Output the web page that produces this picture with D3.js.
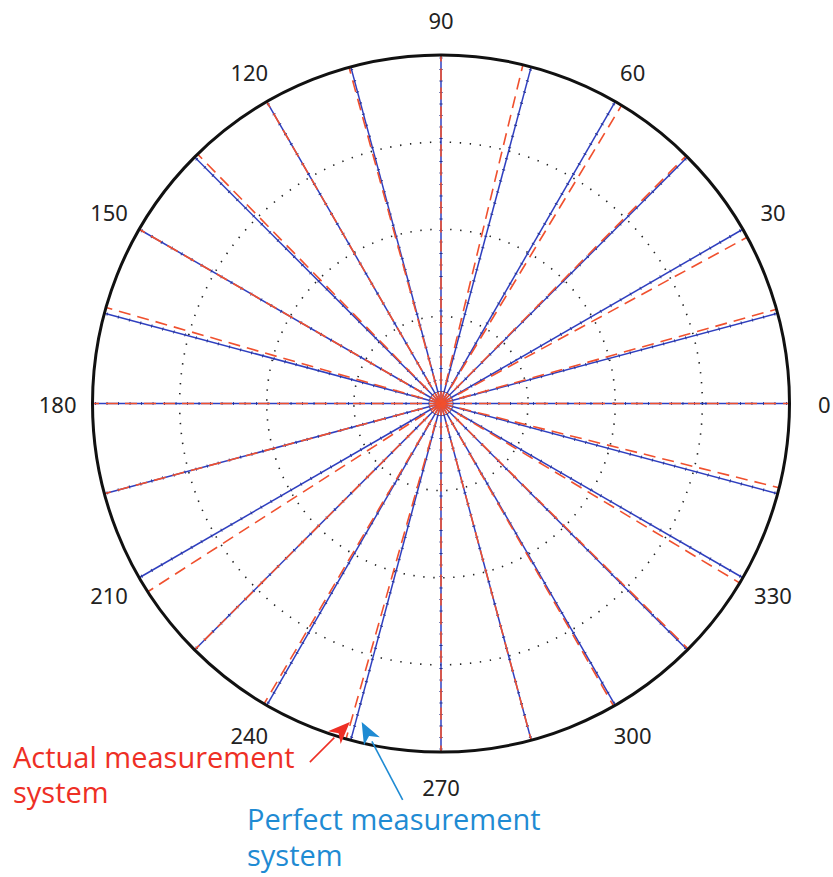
<!DOCTYPE html>
<html>
<head>
<meta charset="utf-8">
<script src="https://cdn.jsdelivr.net/npm/d3@7"></script>
<style>
  html, body { margin: 0; padding: 0; background: #fff; }
  svg { display: block; }
</style>
</head>
<body>
<svg id="chart" width="833" height="877"></svg>
<script>
// Nominal spoke directions (degrees) of the perfect system
const trueAngles = [0, 15, 30, 45, 60, 75, 90, 105, 120, 135, 150, 165,
                    180, 195, 210, 225, 240, 255, 270, 285, 300, 315, 330, 345];
// Directions reported by the actual measurement system for each spoke
const measuredAngles = [0, 15.7, 28.5, 45.3, 58.8, 76.4, 90, 105.3, 120, 134.3, 150, 164,
                        180, 195, 212.7, 225, 239.5, 254.2, 270, 285, 299.7, 315.2, 329, 346];
// Angular tick labels
const angleTicks = [0, 30, 60, 90, 120, 150, 180, 210, 240, 270, 300, 330];
// Dotted range rings (fraction of full radius)
const ringValues = [0.25, 0.5, 0.75];
const rMax = 1;

const svg = d3.select("#chart");
const cx = 441, cy = 403.5, R = 348.5;

const rScale = d3.scaleLinear().domain([0, rMax]).range([0, R]);
// math angle (deg, ccw from east) -> d3 radial angle (rad, cw from north)
const aScale = d3.scaleLinear().domain([0, 360]).range([Math.PI / 2, Math.PI / 2 - 2 * Math.PI]);

const g = svg.append("g").attr("transform", `translate(${cx},${cy})`);

const ray = d3.lineRadial()
  .angle(d => aScale(d.a))
  .radius(d => rScale(d.r));
const spoke = a => ray([{ a: a, r: 0 }, { a: a, r: rMax }]);

// dotted range rings
g.selectAll("circle.ring").data(ringValues).join("circle")
  .attr("class", "ring")
  .attr("r", d => rScale(d))
  .attr("fill", "none")
  .attr("stroke", "#222")
  .attr("stroke-width", 1.6)
  .attr("stroke-dasharray", "1.4 8.6");

// perfect system: solid blue spokes with sample markers
g.selectAll("path.perfect").data(trueAngles).join("path")
  .attr("class", "perfect")
  .attr("d", spoke)
  .attr("fill", "none")
  .attr("stroke", "#2f3fbf")
  .attr("stroke-width", 1.5);
g.selectAll("path.samples").data(trueAngles).join("path")
  .attr("class", "samples")
  .attr("d", spoke)
  .attr("fill", "none")
  .attr("stroke", "#27338f")
  .attr("stroke-width", 3.2)
  .attr("stroke-dasharray", "0.9 10.6");

// actual system: dashed red spokes
g.selectAll("path.actual").data(measuredAngles).join("path")
  .attr("class", "actual")
  .attr("d", spoke)
  .attr("fill", "none")
  .attr("stroke", "#f0502e")
  .attr("stroke-width", 1.6)
  .attr("stroke-dasharray", "12 7");

// outer boundary
g.append("circle")
  .attr("r", rScale(rMax))
  .attr("fill", "none")
  .attr("stroke", "#111")
  .attr("stroke-width", 3);

// angle labels, centred on a ring just outside the boundary
const labelR = rScale(rMax * 1.1);
g.selectAll("text.tick").data(angleTicks).join("text")
  .attr("class", "tick")
  .attr("x", d => Math.cos(d * Math.PI / 180) * labelR)
  .attr("y", d => -Math.sin(d * Math.PI / 180) * labelR)
  .attr("text-anchor", "middle")
  .attr("dominant-baseline", "central")
  .attr("font-family", "'Noto Sans', 'Open Sans', sans-serif")
  .attr("font-size", 22)
  .attr("fill", "#222")
  .text(d => d);

// callouts
const redC = "#ee2f25", blueC = "#1f8bd3";
function arrow(tip, dx, dy, color) {
  const tail = [tip[0] + dx, tip[1] + dy];
  const len = Math.hypot(dx, dy), ux = -dx / len, uy = -dy / len;
  const hl = 22, hw = 9;
  const base = [tip[0] - ux * hl, tip[1] - uy * hl];
  svg.append("line")
    .attr("x1", tail[0]).attr("y1", tail[1])
    .attr("x2", base[0]).attr("y2", base[1])
    .attr("stroke", color).attr("stroke-width", 1.6);
  svg.append("path")
    .attr("d", d3.line()([
      tip,
      [base[0] - uy * hw, base[1] + ux * hw],
      [tip[0] - ux * hl * 0.72, tip[1] - uy * hl * 0.72],
      [base[0] + uy * hw, base[1] - ux * hw]
    ]) + "Z")
    .attr("fill", color);
}
const redLine = measuredAngles[17], blueLine = trueAngles[17];
const pRed = d3.pointRadial(aScale(redLine), rScale(0.95));
const pBlue = d3.pointRadial(aScale(blueLine), rScale(0.946));
arrow([cx + pRed[0] - 1, cy + pRed[1]], -40, 40, redC);
arrow([cx + pBlue[0] + 6, cy + pBlue[1]], 41, 78, blueC);

const noteFont = "'Open Sans', 'Noto Sans', sans-serif";
svg.append("text").attr("x", 13).attr("y", 768)
  .attr("font-family", noteFont).attr("font-size", 29).attr("fill", redC)
  .text("Actual measurement");
svg.append("text").attr("x", 13).attr("y", 803)
  .attr("font-family", noteFont).attr("font-size", 29).attr("fill", redC)
  .text("system");
svg.append("text").attr("x", 247).attr("y", 830)
  .attr("font-family", noteFont).attr("font-size", 29).attr("fill", blueC)
  .text("Perfect measurement");
svg.append("text").attr("x", 247).attr("y", 866)
  .attr("font-family", noteFont).attr("font-size", 29).attr("fill", blueC)
  .text("system");
</script>
</body>
</html>
